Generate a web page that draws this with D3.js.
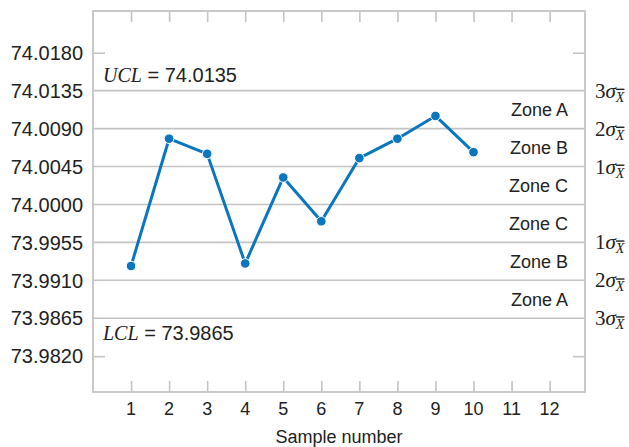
<!DOCTYPE html>
<html>
<head>
<meta charset="utf-8">
<script src="https://cdn.jsdelivr.net/npm/d3@7"></script>
<style>
  html, body { margin: 0; padding: 0; background: #fff; }
  svg text { font-family: "Liberation Sans", Arial, sans-serif; fill: #222; }
  .serif { font-family: "Liberation Serif", "Times New Roman", serif; }
</style>
</head>
<body>
<svg id="chart" width="629" height="447"></svg>
<script>
// Sample means for the x-bar control chart
const samples = [1, 2, 3, 4, 5, 6, 7, 8, 9, 10];
const means = [73.9927, 74.0078, 74.0060, 73.9930, 74.0032, 73.9980, 74.0055, 74.0078, 74.0105, 74.0062];

// Axis ticks
const xTicks = [1, 2, 3, 4, 5, 6, 7, 8, 9, 10, 11, 12];
const yTicks = [74.0180, 74.0135, 74.0090, 74.0045, 74.0000, 73.9955, 73.9910, 73.9865, 73.9820];

// Centre line, control limits and zone boundaries
const centre = 74.0000;
const sigma = 0.0045;
const zoneLines = [74.0135, 74.0090, 74.0045, 74.0000, 73.9955, 73.9910, 73.9865];
const zoneNames = ["Zone A", "Zone B", "Zone C", "Zone C", "Zone B", "Zone A"];
const sigmaMultiples = [3, 2, 1, -1, -2, -3];
const UCL = 74.0135, LCL = 73.9865;

const svg = d3.select("#chart");
const plotL = 93, plotR = 585, plotT = 11, plotB = 392;

const x = d3.scaleLinear().domain([0, 12.93]).range([plotL, plotR]);
const y = d3.scaleLinear().domain([73.97775, 74.02295]).range([plotB, plotT]);

const grey = "#c4c4c4";

// Zone boundary lines across the full width
svg.append("g").selectAll("line").data(zoneLines).join("line")
  .attr("x1", plotL).attr("x2", plotR)
  .attr("y1", d => y(d)).attr("y2", d => y(d))
  .attr("stroke", grey).attr("stroke-width", 1.6);

// Frame
svg.append("rect")
  .attr("x", plotL).attr("y", plotT)
  .attr("width", plotR - plotL).attr("height", plotB - plotT)
  .attr("fill", "none").attr("stroke", grey).attr("stroke-width", 1.8);

// Inward ticks on every side
const tickLen = 11;
const yAxisL = d3.axisRight(y).tickValues([74.0180, 73.9820]).tickSize(12).tickFormat("");
const yAxisR = d3.axisLeft(y).tickValues([74.0180, 73.9820]).tickSize(12).tickFormat("");
const xAxisT = d3.axisBottom(x).tickValues(xTicks).tickSize(tickLen).tickFormat("");
const xAxisB = d3.axisTop(x).tickValues(xTicks).tickSize(tickLen).tickFormat("");
[[yAxisL, `translate(${plotL},0)`], [yAxisR, `translate(${plotR},0)`],
 [xAxisT, `translate(0,${plotT})`], [xAxisB, `translate(0,${plotB})`]].forEach(([ax, tr]) => {
  const g = svg.append("g").attr("transform", tr).call(ax);
  g.select(".domain").remove();
  g.selectAll(".tick line").attr("stroke", grey).attr("stroke-width", 1.6);
});

// Y tick labels
svg.append("g").selectAll("text").data(yTicks).join("text")
  .attr("x", 83).attr("y", d => y(d))
  .attr("dy", "0.36em")
  .attr("text-anchor", "end")
  .style("font-size", "20px")
  .text(d => d.toFixed(4));

// X tick labels
svg.append("g").selectAll("text").data(xTicks).join("text")
  .attr("x", d => x(d)).attr("y", 415)
  .attr("text-anchor", "middle")
  .style("font-size", "18px")
  .text(d => d);

// Axis title
svg.append("text")
  .attr("x", (plotL + plotR) / 2).attr("y", 443)
  .attr("text-anchor", "middle")
  .style("font-size", "18px")
  .text("Sample number");

// Zone labels, centred between boundaries
svg.append("g").selectAll("text").data(zoneNames).join("text")
  .attr("x", 568)
  .attr("y", (d, i) => y((zoneLines[i] + zoneLines[i + 1]) / 2))
  .attr("dy", "0.36em")
  .attr("text-anchor", "end")
  .style("font-size", "18px")
  .text(d => d);

// Sigma labels to the right of the frame
const sig = svg.append("g").selectAll("text").data(sigmaMultiples).join("text")
  .attr("class", "serif")
  .attr("x", 595)
  .attr("y", d => y(centre + d * sigma) + 7)
  .style("font-size", "21px");
sig.append("tspan").text(d => Math.abs(d));
sig.append("tspan").style("font-style", "italic").text("σ");
sig.append("tspan").style("font-style", "italic").style("font-size", "14px")
  .attr("dy", 4).style("text-decoration", "overline").text("X");

// Control limit labels
function limitLabel(name, value, yPos) {
  const t = svg.append("text").attr("x", 103).attr("y", yPos).style("font-size", "20px");
  t.append("tspan").attr("class", "serif").style("font-style", "italic").text(name);
  t.append("tspan").text(" = " + value.toFixed(4));
}
limitLabel("UCL", UCL, y(UCL) - 9);
limitLabel("LCL", LCL, y(LCL) + 22);

// Series line and points
const data = samples.map((s, i) => ({ s, v: means[i] }));
const blue = "#0a76c0";
svg.append("path").datum(data)
  .attr("fill", "none").attr("stroke", blue).attr("stroke-width", 3)
  .attr("stroke-linejoin", "round")
  .attr("d", d3.line().x(d => x(d.s)).y(d => y(d.v)));
svg.append("g").selectAll("circle").data(data).join("circle")
  .attr("cx", d => x(d.s)).attr("cy", d => y(d.v)).attr("r", 4.8)
  .attr("fill", blue).attr("stroke", "#fff").attr("stroke-width", 1);
</script>
</body>
</html>
